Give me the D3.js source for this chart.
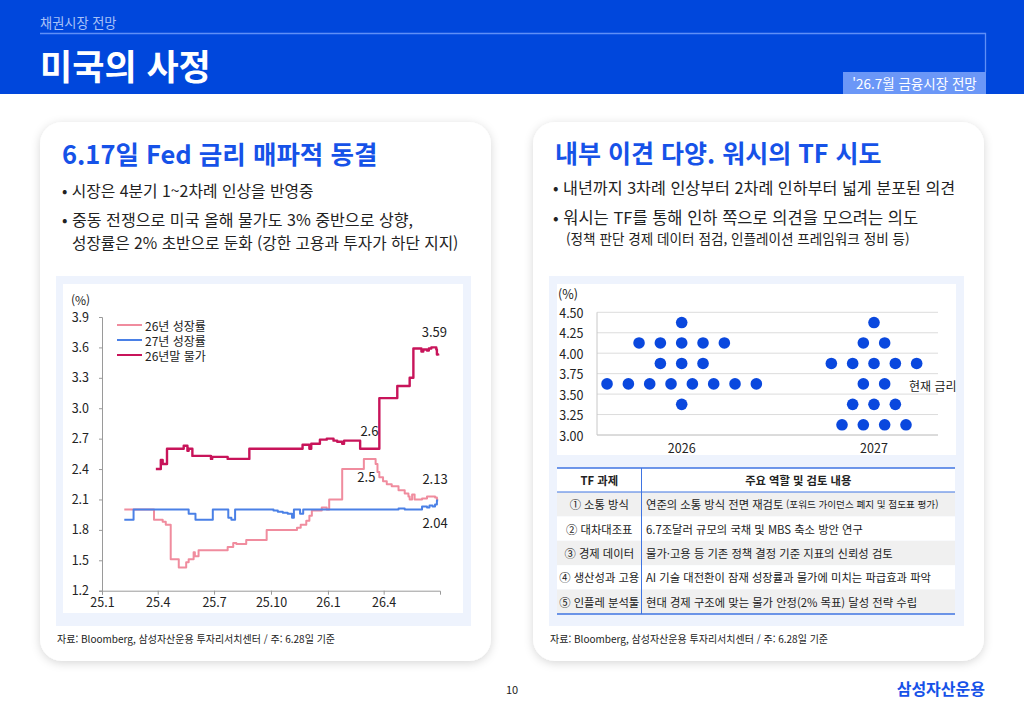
<!DOCTYPE html>
<html lang="ko">
<head>
<meta charset="utf-8">
<script src="https://cdn.jsdelivr.net/npm/d3@7"></script>
<style>
  html, body { margin: 0; padding: 0; background: #fff; }
  svg { display: block; font-family: "Noto Sans CJK KR", "Noto Sans", sans-serif; }
</style>
</head>
<body>
<svg id="slide" width="1024" height="709"></svg>
<script>
// ---- data ----
const seriesNames = ['26년 성장률', '27년 성장률', '26년말 물가']
const seriesColors = ['#f08c9e', '#4a80e6', '#c8145a']

const growth26Dates = ['2025-02-06','2025-03-26','2025-04-09','2025-04-14','2025-04-22','2025-05-05','2025-05-17','2025-05-21','2025-05-29','2025-05-31','2025-06-06','2025-07-23','2025-08-01','2025-08-06','2025-08-22','2025-09-24','2025-11-12','2025-11-18','2025-11-27','2025-12-02','2025-12-06','2025-12-22','2025-12-30','2026-01-03','2026-01-24','2026-02-28','2026-03-19','2026-03-22','2026-03-25','2026-03-31','2026-04-06','2026-04-14','2026-04-25','2026-05-05','2026-05-11','2026-05-13','2026-05-17','2026-05-21','2026-06-02','2026-06-10','2026-06-23','2026-06-26','2026-06-28']
const growth26Values = [2.00,1.90,1.88,1.85,1.51,1.43,1.48,1.51,1.58,1.54,1.60,1.63,1.67,1.66,1.70,1.80,1.82,1.85,1.89,1.94,1.99,2.02,2.00,2.10,2.40,2.50,2.45,2.37,2.32,2.28,2.25,2.23,2.19,2.16,2.13,2.10,2.15,2.10,2.11,2.13,2.12,2.10,2.10]

const growth27Dates = ['2025-02-06','2025-02-21','2025-05-21','2025-06-01','2025-06-29','2025-07-24','2025-07-29','2025-08-04','2025-10-05','2025-10-12','2025-10-20','2025-10-28','2025-11-04','2025-11-07','2025-11-17','2025-11-22','2026-04-25','2026-05-05','2026-06-02','2026-06-10','2026-06-14','2026-06-19','2026-06-23','2026-06-26','2026-06-28']
const growth27Values = [1.90,2.00,1.96,1.90,2.00,1.92,1.90,2.00,1.99,1.98,1.97,1.96,1.92,2.00,1.96,2.00,2.01,2.00,2.03,2.02,2.04,2.03,2.05,2.09,2.09]

const inflation26Dates = ['2025-03-29','2025-04-06','2025-04-09','2025-04-16','2025-05-13','2025-05-19','2025-05-21','2025-05-27','2025-06-26','2025-06-28','2025-07-23','2025-08-27','2025-11-21','2025-12-02','2025-12-05','2025-12-19','2025-12-30','2026-01-10','2026-01-16','2026-01-24','2026-01-27','2026-02-22','2026-03-25','2026-04-23','2026-05-13','2026-05-19','2026-06-01','2026-06-04','2026-06-10','2026-06-13','2026-06-17','2026-06-25','2026-06-26','2026-06-28']
const inflation26Values = [2.40,2.49,2.45,2.60,2.63,2.58,2.60,2.53,2.50,2.52,2.50,2.60,2.64,2.60,2.65,2.69,2.70,2.68,2.67,2.65,2.68,2.60,3.10,3.22,3.30,3.59,3.56,3.58,3.57,3.59,3.60,3.58,3.53,3.52]

const lineYTicks = [1.2, 1.5, 1.8, 2.1, 2.4, 2.7, 3.0, 3.3, 3.6, 3.9]
const lineXTickDates = ['2025-01-01','2025-04-01','2025-07-01','2025-10-01','2026-01-01','2026-04-01']
const lineXTickLabels = ['25.1', '25.4', '25.7', '25.10', '26.1', '26.4']

// value call-outs (text placed at date / value position)
const calloutTexts = ['3.59', '2.6', '2.5', '2.13', '2.04']
const calloutDates = ['2026-06-22', '2026-03-09', '2026-03-04', '2026-06-23', '2026-06-23']
const calloutValues = [3.76, 2.78, 2.33, 2.31, 1.87]

// dot plot
const dotYears = ['2026', '2027']
const dotRates = [4.375, 4.125, 3.875, 3.625, 3.375, 3.125]
const dotCounts2026 = [1, 5, 3, 8, 1, 0]
const dotCounts2027 = [1, 2, 5, 2, 3, 4]
const dotYTicks = [3.00, 3.25, 3.50, 3.75, 4.00, 4.25, 4.50]
const currentRate = 3.625

// TF table
const tfHeader = ['TF 과제', '주요 역할 및 검토 내용']
const tfTasks = ['① 소통 방식', '② 대차대조표', '③ 경제 데이터', '④ 생산성과 고용', '⑤ 인플레 분석툴']
const tfContents = [
  '연준의 소통 방식 전면 재검토',
  '6.7조달러 규모의 국채 및 MBS 축소 방안 연구',
  '물가·고용 등 기존 정책 결정 기준 지표의 신뢰성 검토',
  'AI 기술 대전환이 잠재 성장률과 물가에 미치는 파급효과 파악',
  '현대 경제 구조에 맞는 물가 안정(2% 목표) 달성 전략 수립',
]
const tfNotes = ['(포워드 가이던스 폐지 및 점도표 평가)', '', '', '', '']

const sourceNote = '자료: Bloomberg, 삼성자산운용 투자리서치센터 / 주: 6.28일 기준'

// ---- drawing ----
const svg = d3.select('#slide')
const parse = d3.timeParse('%Y-%m-%d')
const BLUE = '#0047dc'

const defs = svg.append('defs')
const shadow = defs.append('filter').attr('id', 'shadow')
  .attr('x', '-10%').attr('y', '-10%').attr('width', '120%').attr('height', '120%')
shadow.append('feDropShadow')
  .attr('dx', 0).attr('dy', 2).attr('stdDeviation', 5)
  .attr('flood-color', '#000').attr('flood-opacity', 0.16)

// header band
svg.append('rect').attr('x', 0).attr('y', 0).attr('width', 1024).attr('height', 94).attr('fill', BLUE)
svg.append('text').attr('x', 40).attr('y', 22.5).attr('dominant-baseline', 'central')
  .attr('font-size', 13.2).attr('fill', '#a9c2f7').text('채권시장 전망')
svg.append('path').attr('d', 'M40,33.5H985.5V72').attr('fill', 'none')
  .attr('stroke', '#5f8ff6').attr('stroke-width', 1.3)
svg.append('text').attr('x', 40).attr('y', 64).attr('dominant-baseline', 'central')
  .attr('font-size', 35).attr('font-weight', 700).attr('fill', '#fff').text('미국의 사정')
svg.append('rect').attr('x', 843).attr('y', 72).attr('width', 143).attr('height', 22).attr('fill', '#6b97f7')
svg.append('text').attr('x', 914.5).attr('y', 83).attr('dominant-baseline', 'central')
  .attr('text-anchor', 'middle').attr('font-size', 13.5).attr('fill', '#fff').text('\'26.7월 금융시장 전망')

// cards
const cards = [
  { x: 40, title: '6.17일 Fed 금리 매파적 동결', size: 25.5 },
  { x: 533, title: '내부 이견 다양. 워시의 TF 시도', size: 25 },
]
cards.forEach((c) => {
  svg.append('rect').attr('x', c.x).attr('y', 122).attr('width', 451).attr('height', 539)
    .attr('rx', 22).attr('fill', '#fff').attr('filter', 'url(#shadow)')
  svg.append('text').attr('x', c.x + 22).attr('y', 152).attr('dominant-baseline', 'central')
    .attr('font-size', c.size).attr('font-weight', 700).attr('fill', '#1652e8').text(c.title)
  svg.append('text').attr('x', c.x + 17).attr('y', 638).attr('dominant-baseline', 'central')
    .attr('font-size', 10).attr('fill', '#222').text(sourceNote)
})

function bullet(x, y, str, size) {
  const t = svg.append('text').attr('x', x).attr('y', y).attr('dominant-baseline', 'central')
    .attr('font-size', size || 15.8).attr('fill', '#222')
  t.text(str)
  return t
}
bullet(62, 190, '• 시장은 4분기 1~2차례 인상을 반영중')
bullet(62, 218.5, '• 중동 전쟁으로 미국 올해 물가도 3% 중반으로 상향,', 16.1)
bullet(72, 242, '성장률은 2% 초반으로 둔화 (강한 고용과 투자가 하단 지지)', 15.7)
bullet(553, 187, '• 내년까지 3차례 인상부터 2차례 인하부터 넓게 분포된 의견', 16.2)
bullet(553, 216.5, '• 워시는 TF를 통해 인하 쪽으로 의견을 모으려는 의도', 16.5)
bullet(566, 238, '(정책 판단 경제 데이터 점검, 인플레이션 프레임워크 정비 등)', 13.6)

// chart panels
svg.append('rect').attr('x', 56).attr('y', 276).attr('width', 415).attr('height', 350).attr('fill', '#eef3fd')
svg.append('rect').attr('x', 63).attr('y', 284).attr('width', 400).attr('height', 329).attr('fill', '#fff')
svg.append('rect').attr('x', 549).attr('y', 276).attr('width', 415).attr('height', 350).attr('fill', '#eef3fd')
svg.append('rect').attr('x', 557).attr('y', 284).attr('width', 399).attr('height', 171).attr('fill', '#fff')

// ---- line chart ----
const x = d3.scaleTime().domain([parse('2025-01-01'), parse('2026-07-01')]).range([102, 440])
const y = d3.scaleLinear().domain([1.2, 3.9]).range([590.7, 317])

const lc = svg.append('g').attr('font-size', 12)

const yAxis = lc.append('g').attr('transform', 'translate(102,0)')
  .call(d3.axisLeft(y).tickValues(lineYTicks).tickSize(3).tickPadding(10).tickFormat(d3.format('.1f')))
yAxis.attr('font-family', null).attr('font-size', 12.5)
yAxis.select('.domain').attr('stroke', '#9a9a9a')
yAxis.selectAll('.tick line').attr('stroke', '#9a9a9a')
yAxis.selectAll('.tick text').attr('fill', '#222')

const xAxis = lc.append('g').attr('transform', 'translate(0,590.7)')
  .call(d3.axisBottom(x).tickValues(lineXTickDates.map(parse)).tickSize(4).tickSizeOuter(4)
    .tickFormat((d, i) => lineXTickLabels[i]))
xAxis.attr('font-family', null).attr('font-size', 12.5)
xAxis.select('.domain').attr('stroke', '#9a9a9a')
xAxis.selectAll('.tick line').attr('stroke', '#9a9a9a')
xAxis.selectAll('.tick text').attr('fill', '#222')

lc.append('text').attr('x', 71).attr('y', 299).attr('dominant-baseline', 'central').attr('fill', '#222').text('(%)')

const lineSeries = [
  { dates: growth26Dates, values: growth26Values, width: 2 },
  { dates: growth27Dates, values: growth27Values, width: 2 },
  { dates: inflation26Dates, values: inflation26Values, width: 2.4 },
]
const line = d3.line().curve(d3.curveStepAfter).x((d) => x(d[0])).y((d) => y(d[1]))
lc.selectAll('.series')
  .data(lineSeries)
  .join('path')
  .attr('class', 'series')
  .attr('fill', 'none')
  .attr('stroke', (d, i) => seriesColors[i])
  .attr('stroke-width', (d) => d.width)
  .attr('stroke-linejoin', 'round')
  .attr('d', (d) => line(d.dates.map((s, i) => [parse(s), d.values[i]])))

// legend
const legend = lc.append('g')
seriesNames.forEach((name, i) => {
  const ly = 325 + i * 15
  legend.append('line').attr('x1', 117).attr('x2', 142).attr('y1', ly).attr('y2', ly)
    .attr('stroke', seriesColors[i]).attr('stroke-width', 2)
  legend.append('text').attr('x', 145).attr('y', ly).attr('dominant-baseline', 'central')
    .attr('fill', '#222').text(name)
})

lc.selectAll('.callout')
  .data(calloutTexts)
  .join('text')
  .attr('class', 'callout')
  .attr('x', (d, i) => x(parse(calloutDates[i])))
  .attr('y', (d, i) => y(calloutValues[i]))
  .attr('text-anchor', 'middle')
  .attr('dominant-baseline', 'central')
  .attr('font-size', 13)
  .attr('fill', '#222')
  .text((d) => d)

// ---- dot plot ----
const dy = d3.scaleLinear().domain([3.0, 4.5]).range([435, 312.3])
const dx = d3.scalePoint().domain(dotYears).range([681.7, 874])
const gridX0 = 597
const gridX1 = 938
const dotStep = 21.33
const dp = svg.append('g').attr('font-size', 12.5)

dp.selectAll('.grid')
  .data(dotYTicks)
  .join('line')
  .attr('class', 'grid')
  .attr('x1', gridX0).attr('x2', gridX1)
  .attr('y1', (d) => dy(d)).attr('y2', (d) => dy(d))
  .attr('stroke', (d) => (d === 3 ? '#b8b8b8' : '#dcdcdc'))
  .attr('stroke-width', 1)
dp.append('line').attr('x1', gridX0).attr('x2', gridX0).attr('y1', dy(4.5)).attr('y2', dy(3))
  .attr('stroke', '#c8c8c8')

dp.selectAll('.ylab')
  .data(dotYTicks)
  .join('text')
  .attr('class', 'ylab')
  .attr('x', 583.5).attr('y', (d) => dy(d))
  .attr('text-anchor', 'end').attr('dominant-baseline', 'central')
  .attr('fill', '#222')
  .text((d) => d.toFixed(2))
dp.append('text').attr('x', 558).attr('y', 293).attr('dominant-baseline', 'central').attr('fill', '#222').text('(%)')

dp.selectAll('.xlab')
  .data(dotYears)
  .join('text')
  .attr('class', 'xlab')
  .attr('x', (d) => dx(d)).attr('y', 447)
  .attr('text-anchor', 'middle').attr('dominant-baseline', 'central')
  .attr('fill', '#222')
  .text((d) => d)

const dots = []
;[dotCounts2026, dotCounts2027].forEach((counts, yi) => {
  counts.forEach((n, ri) => {
    for (let k = 0; k < n; k++) {
      dots.push({ year: dotYears[yi], rate: dotRates[ri], offset: k - (n - 1) / 2 })
    }
  })
})
dp.selectAll('.dot')
  .data(dots)
  .join('circle')
  .attr('class', 'dot')
  .attr('cx', (d) => dx(d.year) + d.offset * dotStep)
  .attr('cy', (d) => dy(d.rate))
  .attr('r', 5.8)
  .attr('fill', '#0a48de')

dp.append('text').attr('x', 909).attr('y', dy(currentRate) + 2)
  .attr('dominant-baseline', 'central').attr('font-size', 12).attr('fill', '#222').text('현재 금리')

// ---- TF table ----
const tb = svg.append('g').attr('font-size', 11.3)
const tX0 = 557
const tX1 = 955
const tSplit = 641.5
const tTop = 468
const headH = 24
const rowH = 24.4
tb.append('rect').attr('x', tX0).attr('y', tTop).attr('width', tX1 - tX0).attr('height', headH).attr('fill', '#fff')
tfTasks.forEach((task, i) => {
  const ry = tTop + headH + i * rowH
  tb.append('rect').attr('x', tX0).attr('y', ry).attr('width', tX1 - tX0).attr('height', rowH)
    .attr('fill', i % 2 === 0 ? '#f0f0f0' : '#fff')
  tb.append('text').attr('x', (tX0 + tSplit) / 2).attr('y', ry + rowH / 2)
    .attr('text-anchor', 'middle').attr('dominant-baseline', 'central')
    .attr('fill', '#222').text(task)
  const ct = tb.append('text').attr('x', tSplit + 4.5).attr('y', ry + rowH / 2)
    .attr('dominant-baseline', 'central').attr('fill', '#222')
  ct.append('tspan').text(tfContents[i])
  if (tfNotes[i]) ct.append('tspan').attr('font-size', 9.6).text(' ' + tfNotes[i])
})
tb.append('text').attr('x', (tX0 + tSplit) / 2).attr('y', tTop + headH / 2)
  .attr('text-anchor', 'middle').attr('dominant-baseline', 'central')
  .attr('font-weight', 700).attr('fill', '#222').text(tfHeader[0])
tb.append('text').attr('x', (tSplit + tX1) / 2).attr('y', tTop + headH / 2)
  .attr('text-anchor', 'middle').attr('dominant-baseline', 'central')
  .attr('font-weight', 700).attr('fill', '#222').text(tfHeader[1])
const tBottom = tTop + headH + tfTasks.length * rowH
tb.append('line').attr('x1', tX0).attr('x2', tX1).attr('y1', tTop).attr('y2', tTop).attr('stroke', '#3f74e2').attr('stroke-width', 1.5)
tb.append('line').attr('x1', tX0).attr('x2', tX1).attr('y1', tTop + headH).attr('y2', tTop + headH).attr('stroke', '#3f74e2').attr('stroke-width', 1)
tb.append('line').attr('x1', tX0).attr('x2', tX1).attr('y1', tBottom).attr('y2', tBottom).attr('stroke', '#3f74e2').attr('stroke-width', 1.5)
tb.append('line').attr('x1', tSplit).attr('x2', tSplit).attr('y1', tTop).attr('y2', tBottom).attr('stroke', '#3f74e2').attr('stroke-width', 1)

// footer
svg.append('text').attr('x', 512).attr('y', 689).attr('text-anchor', 'middle').attr('dominant-baseline', 'central')
  .attr('font-size', 11).attr('fill', '#222').text('10')
svg.append('text').attr('x', 985).attr('y', 688).attr('text-anchor', 'end').attr('dominant-baseline', 'central')
  .attr('font-size', 16).attr('font-weight', 700).attr('fill', '#1652e8').text('삼성자산운용')
</script>
</body>
</html>
